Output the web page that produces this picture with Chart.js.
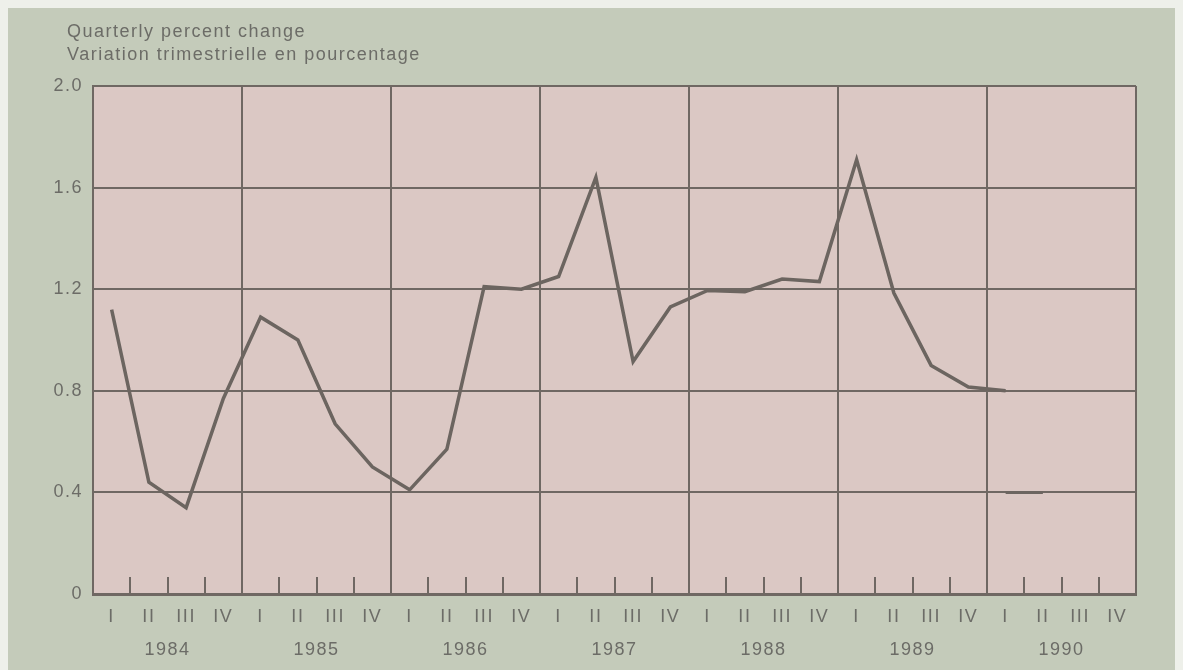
<!DOCTYPE html>
<html>
<head>
<meta charset="utf-8">
<script src="https://cdn.jsdelivr.net/npm/chart.js@4.4.0/dist/chart.umd.min.js"></script>
<style>
  html, body { margin: 0; padding: 0; background: #eef0ea; }
  #wrap { width: 1183px; height: 670px; position: relative; }
</style>
</head>
<body>
<div id="wrap"><canvas id="c" width="1183" height="670"></canvas></div>
<script>
// ---- Data ----
const years = ['1984', '1985', '1986', '1987', '1988', '1989', '1990'];
const quarterNames = ['I', 'II', 'III', 'IV'];
const quarterLabels = [];
years.forEach(() => quarterNames.forEach(q => quarterLabels.push(q)));
const yTicks = [0, 0.4, 0.8, 1.2, 1.6, 2.0];

const change = [
  1.12, 0.44, 0.34, 0.77,
  1.09, 1.00, 0.67, 0.50,
  0.41, 0.57, 1.21, 1.20,
  1.25, 1.64, 0.915, 1.13,
  1.195, 1.19, 1.24, 1.23,
  1.71, 1.185, 0.90, 0.815,
  0.80, null, null, null
];
const stray = [
  null, null, null, null,
  null, null, null, null,
  null, null, null, null,
  null, null, null, null,
  null, null, null, null,
  null, null, null, null,
  0.40, 0.40, null, null
];

const titleLines = ['Quarterly percent change', 'Variation trimestrielle en pourcentage'];

// ---- Styles ----
const INK = '#6f6863';
const TEXT = '#6c6c67';
const FONT = { family: '"Liberation Sans", Arial, Helvetica, sans-serif', size: 18 };

const backdrop = {
  id: 'backdrop',
  beforeDraw(chart) {
    const ctx = chart.ctx;
    ctx.letterSpacing = '1.5px';
    ctx.save();
    ctx.fillStyle = '#eef0ea';
    ctx.fillRect(0, 0, chart.width, chart.height);
    ctx.fillStyle = '#c4cbba';
    ctx.fillRect(8, 8, 1167, chart.height - 8);
    const a = chart.chartArea;
    ctx.fillStyle = '#dbc8c4';
    ctx.fillRect(a.left, a.top, a.right - a.left, a.bottom - a.top);
    // title
    ctx.fillStyle = TEXT;
    ctx.font = '18px "Liberation Sans", Arial, sans-serif';
    ctx.textBaseline = 'middle';
    ctx.textAlign = 'left';
    ctx.fillText(titleLines[0], 67, 32);
    ctx.fillText(titleLines[1], 67, 55);
    ctx.restore();
  },
  beforeDatasetsDraw(chart) {
    // inward quarter tick marks
    const ctx = chart.ctx;
    const xs = chart.scales.x;
    const a = chart.chartArea;
    ctx.save();
    ctx.strokeStyle = INK;
    ctx.lineWidth = 2;
    for (let i = 1; i < quarterLabels.length; i++) {
      if (i % 4 === 0) continue;
      const x = Math.round((xs.getPixelForTick(i - 1) + xs.getPixelForTick(i)) / 2);
      ctx.beginPath();
      ctx.moveTo(x, a.bottom);
      ctx.lineTo(x, a.bottom - 17);
      ctx.stroke();
    }
    ctx.restore();
  }
};

new Chart(document.getElementById('c'), {
  type: 'line',
  data: {
    labels: quarterLabels,
    datasets: [
      {
        data: change,
        borderColor: '#6c6560',
        borderWidth: 3.5,
        pointRadius: 0,
        tension: 0,
        spanGaps: false,
        borderJoinStyle: 'miter'
      },
      {
        data: stray,
        borderColor: '#6c6560',
        borderWidth: 3,
        pointRadius: 0,
        tension: 0
      }
    ]
  },
  options: {
    responsive: false,
    animation: false,
    devicePixelRatio: 1,
    layout: { padding: { top: 86, right: 47, bottom: 9, left: 0 } },
    plugins: { legend: { display: false }, tooltip: { enabled: false }, title: { display: false } },
    scales: {
      x: {
        type: 'category',
        position: 'bottom',
        offset: true,
        grid: {
          offset: true,
          drawTicks: false,
          lineWidth: 2,
          color: (c) => (c.index === undefined || c.index % 4 === 0) ? INK : 'rgba(0,0,0,0)'
        },
        border: { display: true, color: INK, width: 3 },
        ticks: { color: TEXT, font: FONT, padding: 12, autoSkip: false, maxRotation: 0 },
        afterFit(s) { s.height = 34; }
      },
      year: {
        type: 'category',
        position: 'bottom',
        labels: years,
        offset: true,
        grid: { display: false, drawTicks: false },
        border: { display: false },
        ticks: { color: TEXT, font: FONT, padding: 11, autoSkip: false, maxRotation: 0 },
        afterFit(s) { s.height = 33; }
      },
      y: {
        min: 0,
        max: 2.0,
        grid: { color: INK, lineWidth: 2, drawTicks: false },
        border: { display: true, color: INK, width: 2 },
        afterBuildTicks(s) { s.ticks = yTicks.map(v => ({ value: v })); },
        ticks: {
          color: TEXT,
          font: FONT,
          padding: 10,
          callback: (v) => v === 0 ? '0' : Number(v).toFixed(1)
        },
        afterFit(s) { s.width = 93; }
      }
    }
  },
  plugins: [backdrop]
});
</script>
</body>
</html>
